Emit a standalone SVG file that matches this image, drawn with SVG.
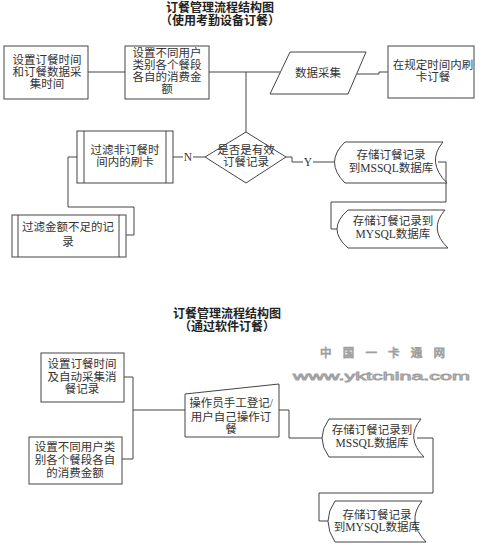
<svg xmlns="http://www.w3.org/2000/svg" width="485" height="545" viewBox="0 0 485 545">
<style>
.s{fill:#fff;stroke:#444;stroke-width:1}
.c{fill:none;stroke:#444;stroke-width:1}
text{font-family:"Liberation Serif","Noto Sans CJK SC",serif;font-size:11.5px;fill:#333;text-anchor:middle}
.t{font-size:12px;font-weight:bold;fill:#222}
.wm{font-family:"Liberation Sans","Noto Sans CJK SC",sans-serif;fill:#f2f2f2;stroke:#a0a0a0;stroke-width:0.8;text-anchor:start}
</style>
<rect width="485" height="545" fill="#fff"/>
<g id="title1"><text class="t" x="220" y="12">订餐管理流程结构图</text><text class="t" x="220" y="25">（使用考勤设备订餐）</text></g>
<g id="title2"><text class="t" x="227" y="318">订餐管理流程结构图</text><text class="t" x="227" y="331">（通过软件订餐）</text></g>
<g id="watermark"><text class="wm" x="320" y="357" font-size="21" textLength="125" lengthAdjust="spacing">中国一卡通网</text><text class="wm" x="293" y="380" font-size="20" textLength="177" lengthAdjust="spacingAndGlyphs">www.yktchina.com</text></g>
<g id="connectors">
<path class="c" d="M88,72H125"/>
<path class="c" d="M209,72H280"/>
<path class="c" d="M246,72V132"/>
<path class="c" d="M357,74H379V72H388"/>
<path class="c" d="M173,157H183M193,157H205"/>
<text x="188" y="161" font-size="10">N</text>
<path class="c" d="M286,157H292V162H303M313,162H339"/>
<text x="308" y="166" font-size="10">Y</text>
<path class="c" d="M77,157H68V207H134V235H126"/>
<path class="c" d="M438,162H446V202H331V229H340"/>
<path class="c" d="M124,377H133V459H122"/>
<path class="c" d="M133,410H185"/>
<path class="c" d="M279,410H289V438H322"/>
<path class="c" d="M417,438H433V493H319V521H328"/>
</g>
<g id="n1"><rect class="s" x="4" y="46" width="84" height="53"/><text x="47" y="64">设置订餐时间</text><text x="47" y="76">和订餐数据采</text><text x="47" y="88">集时间</text></g>
<g id="n2"><rect class="s" x="125" y="46" width="84" height="53"/><text x="167" y="57">设置不同用户</text><text x="167" y="69">类别各个餐段</text><text x="167" y="81">各自的消费金</text><text x="167" y="93">额</text></g>
<g id="n3"><path class="s" d="M290,52H366L348,94H270Z"/><text x="318" y="77">数据采集</text></g>
<g id="n4"><rect class="s" x="388" y="46" width="86" height="52"/><text x="433" y="69">在规定时间内刷</text><text x="433" y="81">卡订餐</text></g>
<g id="n5"><path class="s" d="M246,132L286,157L246,183L205,157Z"/><text x="246" y="154">是否是有效</text><text x="246" y="166">订餐记录</text></g>
<g id="n6"><rect class="s" x="77" y="131" width="96" height="52"/><path class="c" d="M84,131V183M166,131V183"/><text x="125" y="154">过滤非订餐时</text><text x="125" y="166">间内的刷卡</text></g>
<g id="n7"><rect class="s" x="12" y="215" width="114" height="42"/><path class="c" d="M18,215V257M119,215V257"/><text x="68" y="231">过滤金额不足的记</text><text x="68" y="246">录</text></g>
<g id="n8"><path class="s" d="M345,142H443Q426,162 447,183H345Q324,162 345,142Z"/><text x="391" y="159">存储订餐记录</text><text x="391" y="172">到MSSQL数据库</text></g>
<g id="n9"><path class="s" d="M348,210H445Q428,229 448,248H348Q326,229 348,210Z"/><text x="393" y="225">存储订餐记录到</text><text x="393" y="238">MYSQL数据库</text></g>
<g id="n10"><rect class="s" x="41" y="353" width="83" height="49"/><text x="82" y="368">设置订餐时间</text><text x="82" y="381">及自动采集消</text><text x="82" y="393">餐记录</text></g>
<g id="n11"><rect class="s" x="29" y="437" width="93" height="47"/><text x="75" y="451">设置不同用户类</text><text x="75" y="464">别各个餐段各自</text><text x="75" y="477">的消费金额</text></g>
<g id="n12"><path class="s" d="M185,394L279,384V437H185Z"/><text x="231" y="407">操作员手工登记/</text><text x="231" y="421">用户自己操作订</text><text x="231" y="433">餐</text></g>
<g id="n13"><path class="s" d="M329,419H421Q405,438 424,457H329Q315,438 329,419Z"/><text x="372" y="434">存储订餐记录到</text><text x="372" y="447">MSSQL数据库</text></g>
<g id="n14"><path class="s" d="M335,501H422Q406,521 426,542H335Q321,521 335,501Z"/><text x="377" y="519">存储订餐记录</text><text x="377" y="531">到MYSQL数据库</text></g>
</svg>
